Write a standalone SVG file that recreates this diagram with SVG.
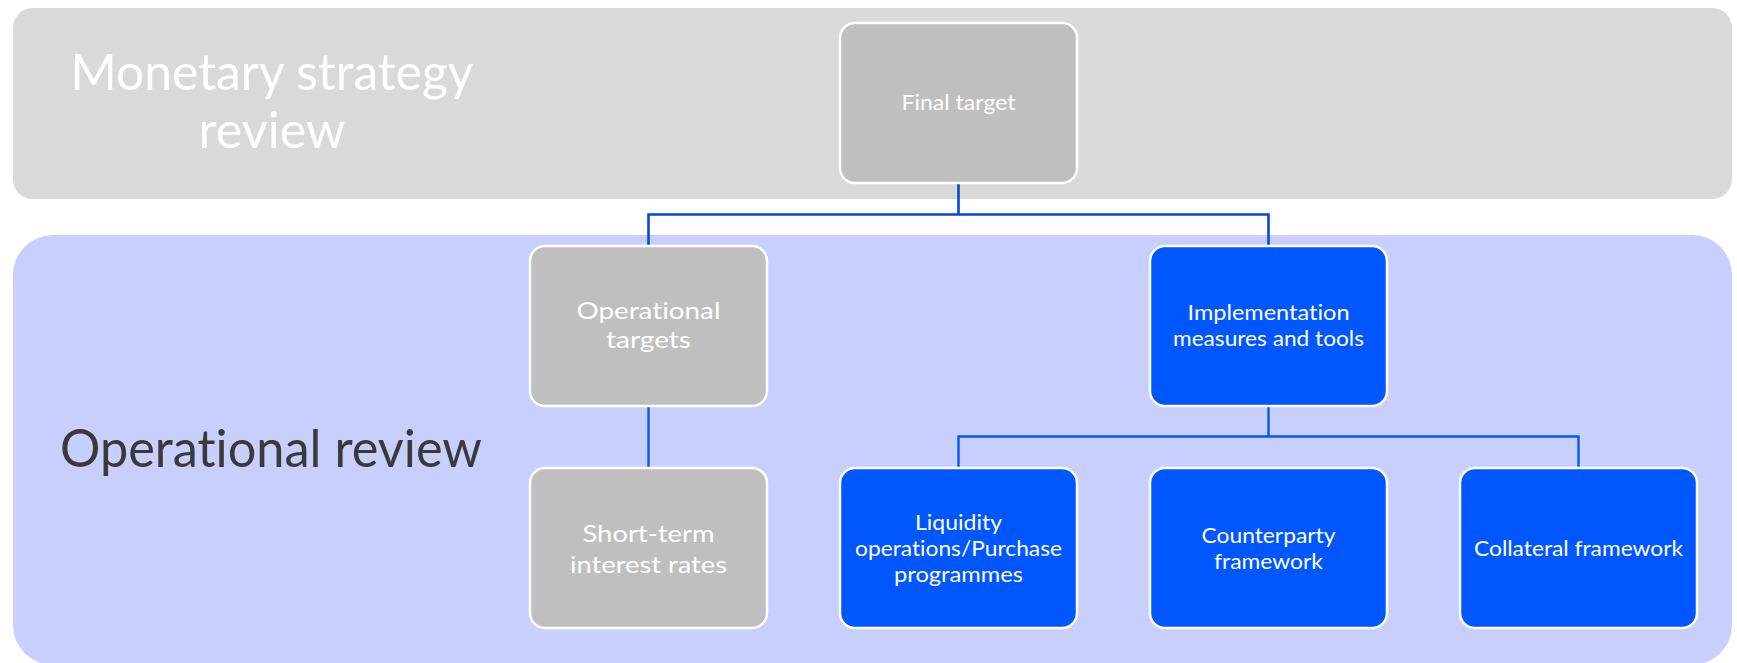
<svg xmlns="http://www.w3.org/2000/svg" width="1737" height="663" viewBox="0 0 1737 663">
<style>
.panel-gray{fill:#d9d9d9}
.panel-blue{fill:#c9cffd}
.box-gray{fill:#bfbfbf;stroke:#ffffff;stroke-width:2.5}
.box-blue{fill:#0057ff;stroke:#ffffff;stroke-width:2.5}
.t{font-family:Lato,"Open Sans","Liberation Sans",sans-serif;fill:#ffffff;text-anchor:middle;font-variant-ligatures:none}
.title-w{font-size:50px}
.title-d{font-size:53px;fill:#3a3a3a;text-anchor:start}
.lbl{font-size:21px}
.lbl-l{font-size:24px}
.conn-top{fill:none;stroke:#0548d4;stroke-width:2.6}
.conn-bot{fill:none;stroke:#0656f0;stroke-width:2.4}
</style>
<g id="panels">
<rect id="strategy-panel" class="panel-gray" x="13" y="8" width="1719" height="191" rx="20" ry="20"/>
<rect id="operational-panel" class="panel-blue" x="13" y="235" width="1719" height="430" rx="40" ry="40"/>
<text class="t title-w" x="272" y="90" textLength="403" lengthAdjust="spacingAndGlyphs">Monetary strategy</text>
<text class="t title-w" x="272" y="148" textLength="147" lengthAdjust="spacingAndGlyphs">review</text>
<text class="t title-d" x="60" y="467" textLength="422" lengthAdjust="spacingAndGlyphs">Operational review</text>
</g>
<g id="connectors">
<path class="conn-top" d="M958.5 183 V214.5 M648.5 214.5 H1268.5 M648.5 213.2 V246 M1268.5 213.2 V246"/>
<path class="conn-bot" d="M648.5 406 V468"/>
<path class="conn-bot" d="M1268.5 406 V436.5 M958.5 436.5 H1578.5 M958.5 435.3 V468 M1578.5 435.3 V468"/>
</g>
<g id="final-target">
<rect class="box-gray" x="840" y="23" width="237" height="160" rx="15" ry="15"/>
<text class="t lbl" x="958.5" y="110" textLength="114" lengthAdjust="spacingAndGlyphs">Final target</text>
</g>
<g id="operational-targets">
<rect class="box-gray" x="530" y="246" width="237" height="160" rx="15" ry="15"/>
<text class="t lbl-l" x="648.5" y="319" textLength="144" lengthAdjust="spacingAndGlyphs">Operational</text>
<text class="t lbl-l" x="648.5" y="348" textLength="85" lengthAdjust="spacingAndGlyphs">targets</text>
</g>
<g id="implementation">
<rect class="box-blue" x="1150" y="246" width="237" height="160" rx="15" ry="15"/>
<text class="t lbl" x="1268.5" y="320" textLength="162" lengthAdjust="spacingAndGlyphs">Implementation</text>
<text class="t lbl" x="1268.5" y="346" textLength="191" lengthAdjust="spacingAndGlyphs">measures and tools</text>
</g>
<g id="short-term">
<rect class="box-gray" x="530" y="468" width="237" height="160" rx="15" ry="15"/>
<text class="t lbl-l" x="648.5" y="542" textLength="132" lengthAdjust="spacingAndGlyphs">Short-term</text>
<text class="t lbl-l" x="648.5" y="573" textLength="157" lengthAdjust="spacingAndGlyphs">interest rates</text>
</g>
<g id="liquidity">
<rect class="box-blue" x="840" y="468" width="237" height="160" rx="15" ry="15"/>
<text class="t lbl" x="958.5" y="529.5" textLength="87" lengthAdjust="spacingAndGlyphs">Liquidity</text>
<text class="t lbl" x="958.5" y="555.5" textLength="207" lengthAdjust="spacingAndGlyphs">operations/Purchase</text>
<text class="t lbl" x="958.5" y="581.5" textLength="129" lengthAdjust="spacingAndGlyphs">programmes</text>
</g>
<g id="counterparty">
<rect class="box-blue" x="1150" y="468" width="237" height="160" rx="15" ry="15"/>
<text class="t lbl" x="1268.5" y="543" textLength="134" lengthAdjust="spacingAndGlyphs">Counterparty</text>
<text class="t lbl" x="1268.5" y="569" textLength="109" lengthAdjust="spacingAndGlyphs">framework</text>
</g>
<g id="collateral">
<rect class="box-blue" x="1460" y="468" width="237" height="160" rx="15" ry="15"/>
<text class="t lbl" x="1578.5" y="556" textLength="209" lengthAdjust="spacingAndGlyphs">Collateral framework</text>
</g>
</svg>
